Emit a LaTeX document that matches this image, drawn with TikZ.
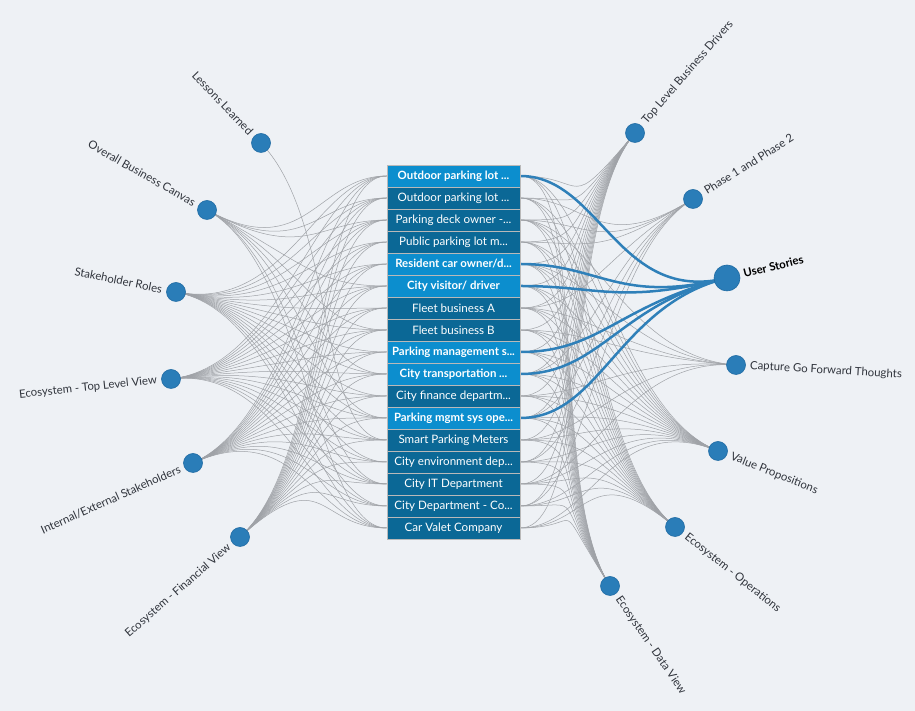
\documentclass[tikz,border=0pt]{standalone}
\usepackage{fontspec}
\setmainfont{Lato}
\usetikzlibrary{calc}
\definecolor{bg}{HTML}{EEF1F5}
\definecolor{rowdark}{HTML}{0B6896}
\definecolor{rowlight}{HTML}{0C8ECE}
\definecolor{nodeblue}{HTML}{2A7DB8}
\definecolor{nodeedge}{HTML}{1F6BA3}
\definecolor{linkgray}{HTML}{9FA2A7}
\definecolor{linkblue}{HTML}{2F80B9}
\definecolor{labeltext}{HTML}{30343C}
\pgfdeclarelayer{bglayer}
\pgfdeclarelayer{links}
\pgfsetlayers{bglayer,links,main}
\begin{document}
\begin{tikzpicture}[x=1pt,y=1pt,
  dot/.style={circle,fill=nodeblue,draw=nodeedge,line width=0.6pt,minimum size=19pt,inner sep=0pt},
  bigdot/.style={dot,minimum size=26pt},
  rowd/.style={rectangle,fill=rowdark,draw=gray!55,line width=0.7pt,minimum width=133pt,minimum height=22pt,inner sep=0pt,text=white,font=\fontsize{11.6}{13}\selectfont},
  rowl/.style={rowd,fill=rowlight,font=\fontsize{11.4}{13}\selectfont\bfseries},
  lab/.style={text=labeltext,font=\fontsize{11.4}{13}\selectfont,inner sep=0pt},
  thinlink/.style={draw=linkgray,line width=0.5pt},
  hotlink/.style={draw=linkblue,line width=2.5pt},
]
\useasboundingbox (0,0) rectangle (915,711);
\begin{pgfonlayer}{bglayer}
\fill[bg] (0,0) rectangle (915,711);
\end{pgfonlayer}
\coordinate (C) at (455,366);

% rows
\node[rowl] (r1)  at (453.5,535) {Outdoor parking lot ...};
\node[rowd] (r2)  at (453.5,513) {Outdoor parking lot ...};
\node[rowd] (r3)  at (453.5,491) {Parking deck owner -...};
\node[rowd] (r4)  at (453.5,469) {Public parking lot m...};
\node[rowl] (r5)  at (453.5,447) {Resident car owner/d...};
\node[rowl] (r6)  at (453.5,425) {City visitor/ driver};
\node[rowd] (r7)  at (453.5,403) {Fleet business A};
\node[rowd] (r8)  at (453.5,381) {Fleet business B};
\node[rowl] (r9)  at (453.5,359) {Parking management s...};
\node[rowl] (r10) at (453.5,337) {City transportation ...};
\node[rowd] (r11) at (453.5,315) {City finance departm...};
\node[rowl] (r12) at (453.5,293) {Parking mgmt sys ope...};
\node[rowd] (r13) at (453.5,271) {Smart Parking Meters};
\node[rowd] (r14) at (453.5,249) {City environment dep...};
\node[rowd] (r15) at (453.5,227) {City IT Department};
\node[rowd] (r16) at (453.5,205) {City Department - Co...};
\node[rowd] (r17) at (453.5,183) {Car Valet Company};

% left nodes
\node[dot] (LL)  at (261,568) {};
\node[dot] (OBC) at (207,501) {};
\node[dot] (SR)  at (176,419) {};
\node[dot] (ETL) at (171,332) {};
\node[dot] (IES) at (193,248) {};
\node[dot] (EFV) at (240,174) {};
% right nodes
\node[dot] (TLB) at (635,578) {};
\node[dot] (P12) at (693,512) {};
\node[bigdot] (US) at (727,433) {};
\node[dot] (CGF) at (736,346) {};
\node[dot] (VP)  at (718,260) {};
\node[dot] (EO)  at (675,184) {};
\node[dot] (EDV) at (610,125) {};

% labels left
\node[lab,anchor=east,rotate=-46.2] at ($(LL)+(133.8:14)$) {Lessons Learned};
\node[lab,anchor=east,rotate=-29.5] at ($(OBC)+(150.5:14)$) {Overall Business Canvas};
\node[lab,anchor=east,rotate=-11.5] at ($(SR)+(168.5:14)$) {Stakeholder Roles};
\node[lab,anchor=east,rotate=6]     at ($(ETL)+(186:14)$) {Ecosystem - Top Level View};
\node[lab,anchor=east,rotate=24]    at ($(IES)+(204:14)$) {Internal/External Stakeholders};
\node[lab,anchor=east,rotate=41]    at ($(EFV)+(221:14)$) {Ecosystem - Financial View};
% labels right
\node[lab,anchor=west,rotate=49]    at ($(TLB)+(49:14)$) {Top Level Business Drivers};
\node[lab,anchor=west,rotate=32]    at ($(P12)+(32:14)$) {Phase 1 and Phase 2};
\node[lab,anchor=west,rotate=14,text=black,font=\fontsize{11.4}{13}\selectfont\bfseries] at ($(US)+(14:17)$) {User Stories};
\node[lab,anchor=west,rotate=-3.5] at ($(CGF)+(-3.5:14)$) {Capture Go Forward Thoughts};
\node[lab,anchor=west,rotate=-22]  at ($(VP)+(-22:14)$) {Value Propositions};
\node[lab,anchor=west,rotate=-38.5] at ($(EO)+(-38.5:14)$) {Ecosystem - Operations};
\node[lab,anchor=west,rotate=-55.5] at ($(EDV)+(-55.5:14)$) {Ecosystem - Data View};

% links
\begin{pgfonlayer}{links}
\foreach \n/\rows in {LL/{13}, OBC/{1,2,3,6,8,10,12,15,17}, SR/{1,...,17}, ETL/{1,...,17}, IES/{1,...,17}, EFV/{1,...,17}}{
  \foreach \r in \rows {
    \draw[thinlink] (\n.center) .. controls ($(\n)!0.4!(C)$) and ($(r\r.west)+(-70,0)$) .. (r\r.west);
  }
}
\foreach \n/\rows in {TLB/{1,...,17}, P12/{2,3,4,7,10,12,14,16}, CGF/{3,5,7,8,11,13,15}, VP/{1,...,17}, EO/{1,...,17}, EDV/{1,...,17}}{
  \foreach \r in \rows {
    \draw[thinlink] (r\r.east) .. controls ($(r\r.east)+(70,0)$) and ($(\n)!0.4!(C)$) .. (\n.center);
  }
}
\foreach \r in {1,5,6,9,10,12}{
  \draw[hotlink] (r\r.east) .. controls ($(r\r.east)+(80,0)$) and ($(US)!0.4!(C)$) .. (US.center);
}
\end{pgfonlayer}
\end{tikzpicture}
\end{document}
